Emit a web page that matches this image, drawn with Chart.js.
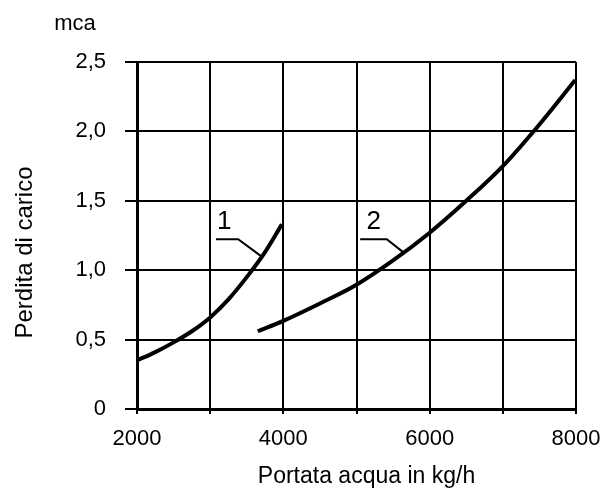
<!DOCTYPE html>
<html><head><meta charset="utf-8">
<script src="https://cdn.jsdelivr.net/npm/chart.js@4/dist/chart.umd.min.js"></script>
<style>html,body{margin:0;padding:0;background:#fff}#wrap{width:600px;height:491px}</style>
</head><body><div id="wrap"><canvas id="c" width="600" height="491"></canvas></div>
<script>
// ---- data ----
const flow1 = [2000, 2250, 2500, 2750, 3000, 3250, 3500, 3750, 3980];
const loss1 = [0.35, 0.41, 0.48, 0.56, 0.66, 0.79, 0.95, 1.13, 1.33];
const flow2 = [3650, 4000, 4500, 5000, 5500, 6000, 6500, 7000, 7500, 7990];
const loss2 = [0.56, 0.635, 0.76, 0.895, 1.07, 1.27, 1.5, 1.75, 2.05, 2.37];
const xTickValues = [2000, 3000, 4000, 5000, 6000, 7000, 8000];
const xTickLabels = ['2000', '', '4000', '', '6000', '', '8000'];
const yTickValues = [0, 0.5, 1, 1.5, 2, 2.5];
const yTickLabels = ['0', '0,5', '1,0', '1,5', '2,0', '2,5'];
const xTitle = 'Portata acqua in kg/h';
const yTitle = 'Perdita di carico';
const yUnit = 'mca';
const curveNames = ['1', '2'];
// label anchors and leader lines, in data units
const nameAnchorsX = [3193, 5234];
const nameAnchorsY = [1.345, 1.345];
const leaderX = [[3079, 3383, 3700], [5050, 5414, 5637]];
const leaderY = [[1.223, 1.223, 1.10], [1.223, 1.223, 1.13]];

const FONT = "'Liberation Sans', Arial, sans-serif";

function pts(xs, ys) { return xs.map((x, i) => ({ x: x, y: ys[i] })); }

const annotate = {
  id: 'annotate',
  afterDraw(chart) {
    const ctx = chart.ctx, xs = chart.scales.x, ys = chart.scales.y, a = chart.chartArea;
    ctx.save();
    ctx.fillStyle = '#000';
    ctx.strokeStyle = '#000';
    // unit
    ctx.font = '22px ' + FONT;
    ctx.textAlign = 'center'; ctx.textBaseline = 'alphabetic';
    ctx.fillText(yUnit, 75, 30);
    // x title
    ctx.font = '23px ' + FONT;
    ctx.fillText(xTitle, (a.left + a.right) / 2 + 10, 483);
    // y title
    ctx.font = '24px ' + FONT;
    ctx.save();
    ctx.translate(25, (a.top + a.bottom) / 2 + 17);
    ctx.rotate(-Math.PI / 2);
    ctx.textBaseline = 'middle';
    ctx.fillText(yTitle, 0, 0);
    ctx.restore();
    // curve names with leaders
    ctx.font = '26px ' + FONT;
    ctx.textBaseline = 'middle';
    ctx.lineWidth = 2;
    curveNames.forEach((n, i) => {
      ctx.fillText(n, xs.getPixelForValue(nameAnchorsX[i]), ys.getPixelForValue(nameAnchorsY[i]));
      ctx.beginPath();
      leaderX[i].forEach((lx, j) => {
        const px = xs.getPixelForValue(lx), py = ys.getPixelForValue(leaderY[i][j]);
        if (j === 0) ctx.moveTo(px, py); else ctx.lineTo(px, py);
      });
      ctx.stroke();
    });
    ctx.restore();
  }
};

const lineStyle = { borderColor: '#000', borderWidth: 4, pointRadius: 0, fill: false,
  cubicInterpolationMode: 'monotone', borderCapStyle: 'butt' };

new Chart(document.getElementById('c'), {
  type: 'line',
  data: {
    datasets: [
      Object.assign({ label: curveNames[0], data: pts(flow1, loss1) }, lineStyle),
      Object.assign({ label: curveNames[1], data: pts(flow2, loss2) }, lineStyle)
    ]
  },
  options: {
    responsive: false,
    animation: false,
    devicePixelRatio: 1,
    layout: { padding: { top: 62, right: 24, left: 0, bottom: 0 } },
    plugins: { legend: { display: false }, tooltip: { enabled: false } },
    scales: {
      x: {
        type: 'linear', min: 2000, max: 8000,
        afterBuildTicks(s) { s.ticks = xTickValues.map(v => ({ value: v })); },
        ticks: { autoSkip: false, maxRotation: 0, color: '#000', padding: 12,
          font: { family: FONT, size: 22 },
          callback(v) { const i = xTickValues.indexOf(v); return i >= 0 ? xTickLabels[i] : ''; } },
        grid: { color: '#000', lineWidth: 2, tickLength: 5, drawTicks: true },
        border: { color: '#000', width: 3 },
        afterFit(s) { s.height = 82; s.paddingLeft = 0; s.paddingRight = 0; }
      },
      y: {
        type: 'linear', min: 0, max: 2.5,
        afterBuildTicks(s) { s.ticks = yTickValues.map(v => ({ value: v })); },
        ticks: { color: '#000', padding: 19, font: { family: FONT, size: 22 },
          callback(v) { const i = yTickValues.indexOf(v); return i >= 0 ? yTickLabels[i] : ''; } },
        grid: { color: '#000', lineWidth: 2, tickLength: 12, drawTicks: true },
        border: { color: '#000', width: 3 },
        afterFit(s) { s.width = 137; s.paddingTop = 0; s.paddingBottom = 0; }
      }
    }
  },
  plugins: [annotate]
});
</script>
</body></html>
